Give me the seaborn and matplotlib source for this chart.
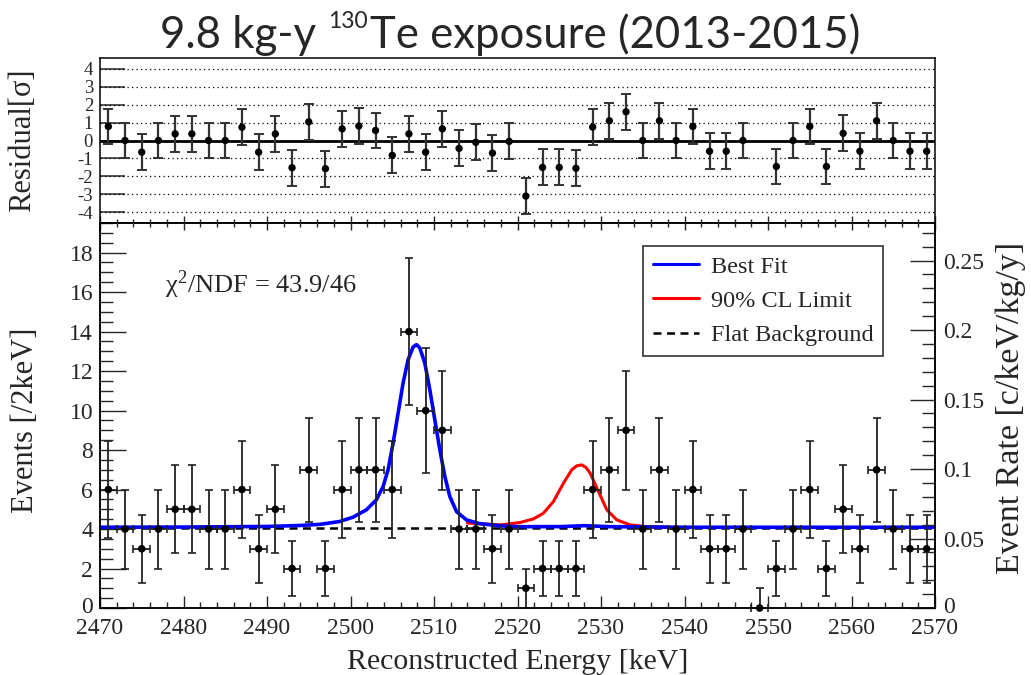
import numpy as np
import pandas as pd
import matplotlib
matplotlib.use("Agg")
import matplotlib.pyplot as plt
import matplotlib.transforms as mtransforms
import seaborn as sns
from matplotlib.ticker import MultipleLocator, FuncFormatter
from matplotlib.lines import Line2D

# ---------------- data ----------------
bin_centers = list(range(2471, 2570, 2))  # 2 keV bins, 2470-2570
counts = [6, 4, 3, 4, 5, 5, 4, 4, 6, 3,
          5, 2, 7, 2, 6, 7, 7, 6, 14, 10,
          9, 4, 4, 3, 4, 1, 2, 2, 2, 6,
          7, 9, 4, 7, 4, 6, 3, 3, 4, 0,
          2, 4, 6, 2, 5, 3, 7, 4, 3, 3]
residuals = [0.78, 0.0, -0.65, 0.0, 0.37, 0.37, 0.0, 0.0, 0.74, -0.65,
             0.37, -1.52, 1.04, -1.57, 0.65, 0.81, 0.56, -0.83, 0.37, -0.65,
             0.65, -0.44, -0.10, -0.70, -0.05, -3.10, -1.50, -1.50, -1.55, 0.75,
             1.10, 1.60, 0.0, 1.10, 0.0, 0.78, -0.60, -0.60, 0.0, np.nan,
             -1.45, 0.0, 0.78, -1.45, 0.40, -0.60, 1.10, 0.0, -0.60, -0.60]

best_fit_x = [2470, 2480, 2490, 2494, 2496.4, 2498.7, 2500.3, 2501.9, 2503.1, 2503.9,
              2504.5, 2505.1, 2505.7, 2506.3, 2506.9, 2507.5, 2507.9, 2508.3, 2508.9,
              2509.5, 2510.1, 2510.7, 2511.3, 2511.9, 2512.7, 2513.9, 2515.5, 2518.0,
              2520.0, 2525.0, 2528.0, 2531.0, 2540.0, 2570.0]
best_fit_y = [4.09, 4.10, 4.13, 4.18, 4.24, 4.38, 4.60, 4.97, 5.48, 6.15,
              7.00, 8.35, 9.87, 11.40, 12.58, 13.22, 13.34, 13.17, 12.41,
              11.05, 9.53, 8.01, 6.66, 5.64, 4.88, 4.46, 4.27, 4.16,
              4.12, 4.12, 4.17, 4.12, 4.09, 4.09]

limit_x = [2514.0, 2518.0, 2520.3, 2521.9, 2523.1, 2524.3, 2525.5, 2526.5, 2527.1, 2527.7,
           2528.2, 2528.7, 2529.7, 2530.7, 2531.9, 2533.5, 2535.5, 2538.0]
limit_y = [4.30, 4.21, 4.33, 4.51, 4.80, 5.39, 6.32, 7.00, 7.20, 7.25,
           7.12, 6.83, 5.90, 4.97, 4.46, 4.21, 4.12, 4.09]

flat_bg_x = [2470, 2570]
flat_bg_y = [4.07, 4.07]

legend_labels = ["Best Fit", "90% CL Limit", "Flat Background"]
rate_scale = 70.4   # counts per 2 keV -> c/keV/kg/y

# ---------------- style ----------------
sns.set_theme(style="ticks")
plt.rcParams['font.family'] = ['Liberation Serif', 'DejaVu Serif']
plt.rcParams['mathtext.fontset'] = 'stix'
plt.rcParams['axes.linewidth'] = 1.1

W, H = 1031, 675
fig = plt.figure(figsize=(W / 100, H / 100), dpi=100)
fig.patch.set_facecolor('white')


def fx(px):
    return px / W


def fy(py):
    return 1 - py / H


ax_r = fig.add_axes([fx(100), fy(223), fx(835), 165 / H])
ax = fig.add_axes([fx(100), fy(608), fx(835), 385 / H])
for a in (ax_r, ax):
    a.set_facecolor('white')
    for s in a.spines.values():
        s.set_color('black')
        s.set_linewidth(1.1)

xs = np.array(bin_centers, dtype=float)
n = np.array(counts, dtype=float)
err_lo = np.sqrt(n)
err_hi = np.where(n == 0, 1.0, np.sqrt(n))

# ---------------- residual panel ----------------
ax_r.set_xlim(2470, 2570)
ax_r.set_ylim(-4.6, 4.6)
for yv in [-4, -3, -2, -1, 1, 2, 3, 4]:
    ax_r.axhline(yv, color='black', lw=0.9, ls=(0, (1, 2.6)), zorder=1)
ax_r.axhline(0, color='black', lw=2.0, zorder=2)
res = np.array(residuals, dtype=float)
ax_r.errorbar(xs, res, yerr=np.where(np.isnan(res), np.nan, 1.0), fmt='none',
              ecolor='#333333', elinewidth=1.6, capsize=3.5, capthick=1.4, zorder=3)
sns.scatterplot(x=xs, y=res, ax=ax_r, color='black', s=28, edgecolor='none',
                zorder=4, legend=False)
ax_r.set_yticks(range(-4, 5))
ax_r.set_yticklabels([str(v) for v in range(-4, 5)], fontsize=13.5)
ax_r.tick_params(axis='y', which='major', direction='in', length=18, width=1.1,
                 pad=5, left=True, right=False)
ax_r.xaxis.set_major_locator(MultipleLocator(10))
ax_r.xaxis.set_minor_locator(MultipleLocator(2))
ax_r.tick_params(axis='x', which='major', direction='in', length=5, width=1.0,
                 labelbottom=False, bottom=True)
ax_r.tick_params(axis='x', which='minor', direction='in', length=3, width=1.0, bottom=True)
ax_r.set_xlabel('')
ax_r.set_ylabel('')

# ---------------- main panel ----------------
ax.set_xlim(2470, 2570)
ax.set_ylim(0, 19.5)

sns.lineplot(x=flat_bg_x, y=flat_bg_y, ax=ax, color='black', lw=1.8,
             estimator=None, sort=False, zorder=2)
ax.lines[-1].set_linestyle((0, (3.2, 2.2)))
sns.lineplot(x=limit_x, y=limit_y, ax=ax, color='#ff0000', lw=2.2,
             estimator=None, sort=False, zorder=3)
sns.lineplot(x=best_fit_x, y=best_fit_y, ax=ax, color='#0000ff', lw=2.6,
             estimator=None, sort=False, zorder=4)

ax.errorbar(xs, n, yerr=[err_lo, err_hi], xerr=1.0, fmt='none', ecolor='#222222',
            elinewidth=1.3, capsize=3.0, capthick=1.2, zorder=5, clip_on=False)
sns.scatterplot(x=xs, y=n, ax=ax, color='black', s=30, edgecolor='none',
                zorder=6, legend=False, clip_on=False)

ax.xaxis.set_major_locator(MultipleLocator(10))
ax.xaxis.set_minor_locator(MultipleLocator(2))
ax.yaxis.set_major_locator(MultipleLocator(2))
ax.yaxis.set_minor_locator(MultipleLocator(0.5))
ax.yaxis.set_major_formatter(FuncFormatter(lambda v, p: '' if abs(v) < 1e-9 else f'{v:g}'))
ax.tick_params(axis='x', which='major', direction='in', length=9, width=1.0,
               labelsize=17, pad=7.5, top=False)
ax.tick_params(axis='x', which='minor', direction='in', length=4.5, width=1.0, top=False)
ax.tick_params(axis='y', which='major', direction='in', length=19, width=1.0,
               labelsize=17, pad=5, right=False)
ax.tick_params(axis='y', which='minor', direction='in', length=9.5, width=1.0, right=False)
ax.set_xlabel('Reconstructed Energy [keV]', fontsize=21.5, labelpad=7)
ax.set_ylabel('')

sec = ax.secondary_xaxis('top')
sec.xaxis.set_major_locator(MultipleLocator(10))
sec.xaxis.set_minor_locator(MultipleLocator(2))
sec.tick_params(axis='x', which='major', direction='in', length=5, width=1.0, labeltop=False)
sec.tick_params(axis='x', which='minor', direction='in', length=3, width=1.0)
sec.spines['top'].set_visible(False)

ax2 = ax.twinx()
ax2.set_ylim(0 / rate_scale, 19.5 / rate_scale)
ax2.yaxis.set_major_locator(MultipleLocator(0.05))
ax2.yaxis.set_minor_locator(MultipleLocator(0.01))
ax2.yaxis.set_major_formatter(FuncFormatter(lambda v, p: '' if abs(v) < 1e-9 else f'{v:g}'))
ax2.tick_params(axis='y', which='major', direction='in', length=18, width=1.0,
                labelsize=17, pad=6)
ax2.tick_params(axis='y', which='minor', direction='in', length=9.5, width=1.0)
for s in ax2.spines.values():
    s.set_color('black')
    s.set_linewidth(1.1)

ident = mtransforms.IdentityTransform()

# zero labels of both count axes, lifted slightly so they clear the energy labels
ax.text(93, H - 613, '0', transform=ident, fontsize=17, ha='right', va='baseline')
ax.text(943, H - 613, '0', transform=ident, fontsize=17, ha='left', va='baseline')

# chi2 text
ax.text(165, H - 285, 'χ$^{\\mathregular{2}}$/NDF = 43.9/46', transform=ident,
        fontsize=19, va='center', ha='left')

# legend
handles = [Line2D([], [], color='#0000ff', lw=2.2),
           Line2D([], [], color='#ff0000', lw=2.2),
           Line2D([], [], color='black', lw=1.8, ls=(0, (3.2, 2.2)))]
leg = ax.legend(handles, legend_labels, loc='upper left',
                bbox_to_anchor=((643 - 100) / 835, (608 - 246) / 385),
                fontsize=17.5, frameon=True, fancybox=False, shadow=False,
                edgecolor='#333333', framealpha=1, borderpad=0.4,
                labelspacing=0.5, handlelength=1.9, handletextpad=0.5,
                borderaxespad=0)
leg.get_frame().set_linewidth(1.2)
leg.set_zorder(10)

# axis labels (figure coordinates)
fig.text(fx(23), fy(140), 'Residual[σ]', rotation=90, ha='center', va='center', fontsize=22)
fig.text(fx(26), fy(420), 'Events [/2keV]', rotation=90, ha='center', va='center', fontsize=22)
fig.text(fx(1011), fy(408), 'Event Rate [c/keV/kg/y]', rotation=90, ha='center',
         va='center', fontsize=24.5)

# title: built from three pieces so that the isotope mass is a small superscript
title_font = ['Lato', 'DejaVu Sans']
base_y = H - 48
renderer = fig.canvas.get_renderer()
t1 = fig.text(0, 0, '9.8 kg-y', transform=ident, fontsize=31.5, family=title_font, va='baseline')
t2 = fig.text(0, 0, '130', transform=ident, fontsize=16.5, family=title_font, va='baseline')
t3 = fig.text(0, 0, 'Te exposure (2013-2015)', transform=ident, fontsize=31.5,
              family=title_font, va='baseline')
w1 = t1.get_window_extent(renderer).width
w2 = t2.get_window_extent(renderer).width
w3 = t3.get_window_extent(renderer).width
gap1, gap2 = 12, 2
total = w1 + gap1 + w2 + gap2 + w3
x0 = 510 - total / 2
t1.set_position((x0, base_y))
t2.set_position((x0 + w1 + gap1, base_y + 20))
t3.set_position((x0 + w1 + gap1 + w2 + gap2, base_y))

fig.savefig('out.png', dpi=100, facecolor='white')
